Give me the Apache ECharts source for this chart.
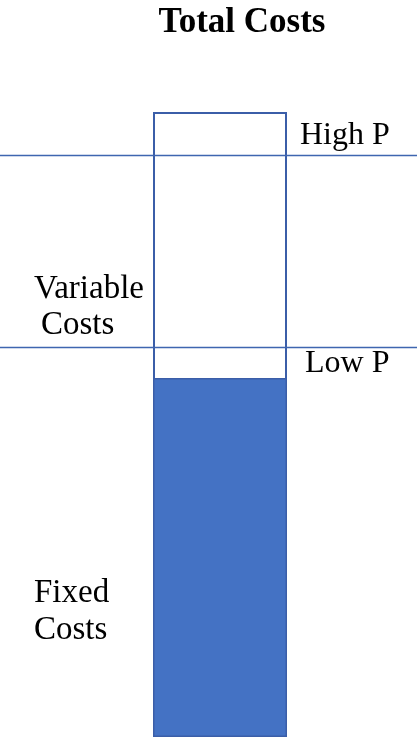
<!DOCTYPE html>
<html><head><meta charset="utf-8">
<script src="https://cdn.jsdelivr.net/npm/echarts@6/dist/echarts.min.js"></script>
<style>html,body{margin:0;padding:0;background:#fff}#c{width:417px;height:740px}</style>
</head><body><div id="c"></div>
<script>
const categories = ['Total Costs'];
const fixedCosts = [359];
const totalCosts = [625];
const priceLevels = [{name:'High P', value:582},{name:'Low P', value:390}];
const barX = 220;
const font = '"Liberation Serif","Times New Roman",serif';
const chart = echarts.init(document.getElementById('c'));
chart.setOption({
  animation:false,
  title:{text:categories[0], left:237, textAlign:'center', top:0, textStyle:{fontFamily:font, fontSize:35, fontWeight:'bold', color:'#000'}},
  grid:{left:0,right:0,top:112,bottom:3},
  xAxis:{type:'value',min:0,max:417,show:false},
  yAxis:{type:'value',min:0,max:625,show:false},
  series:[
    {type:'bar',barWidth:134,barGap:'-100%',data:[[barX,totalCosts[0]]],
     itemStyle:{color:'#fff',borderColor:'#3b5ea8',borderWidth:2},
     markLine:{symbol:'none',silent:true,label:{show:false},
       lineStyle:{color:'#3f66b0',width:1.3,type:'solid',opacity:1},
       data:priceLevels.map(p=>({yAxis:p.value}))}},
    {type:'bar',barWidth:134,barGap:'-100%',data:[[barX,fixedCosts[0]]],
     itemStyle:{color:'#4472c4',borderColor:'#3b5ea8',borderWidth:1.5}}
  ],
  graphic:[
    {type:'text',left:300,top:120,style:{text:'High P',font:'32px '+font,fill:'#000'}},
    {type:'text',left:305,top:348,style:{text:'Low P',font:'32px '+font,fill:'#000'}},
    {type:'text',left:34,top:273,style:{text:'Variable',font:'33px '+font,fill:'#000'}},
    {type:'text',left:41,top:309,style:{text:'Costs',font:'33px '+font,fill:'#000'}},
    {type:'text',left:34,top:577,style:{text:'Fixed',font:'33px '+font,fill:'#000'}},
    {type:'text',left:34,top:614,style:{text:'Costs',font:'33px '+font,fill:'#000'}}
  ]
});
</script></body></html>
